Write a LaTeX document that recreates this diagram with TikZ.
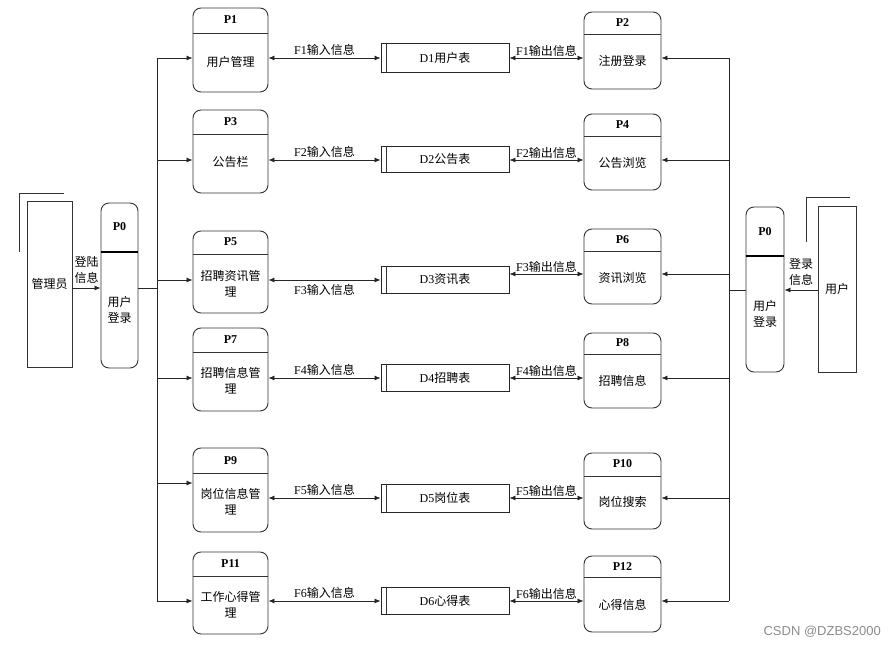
\documentclass[tikz,border=0pt]{standalone}
\usepackage{fontspec}
\setmainfont{Liberation Serif}
\newfontfamily\cjkf{Noto Sans CJK SC}
\newfontfamily\wmf{Liberation Sans}
\usetikzlibrary{arrows.meta}
\newcommand\zh[1]{{\cjkf #1}}
\begin{document}
\begin{tikzpicture}[x=1pt,y=-1pt,
  proc/.style={draw=black!80, line width=0.9pt, rounded corners=8pt, inner sep=0pt},
  ent/.style={draw=black!80, line width=0.9pt, inner sep=0pt, font=\fontsize{12}{15}\selectfont},
  store/.style={draw=black!85, line width=0.9pt, inner sep=0pt, minimum width=128pt, font=\fontsize{12}{15}\selectfont},
  txt/.style={font=\fontsize{12}{16}\selectfont, inner sep=0pt, align=center},
  plabel/.style={font=\fontsize{12}{14}\selectfont\bfseries, inner sep=0pt},
  divl/.style={draw=black!80, line width=0.9pt},
  link/.style={draw=black!85, line width=0.8pt},
  arr/.style={link, -{Latex[length=6pt,width=5pt]}},
  darr/.style={link, {Latex[length=6pt,width=5pt]}-{Latex[length=6pt,width=5pt]}},
  flab/.style={font=\fontsize{12}{14}\selectfont, inner sep=0pt},
]
\useasboundingbox (0,0) rectangle (895,648);
\fill[white] (0,0) rectangle (895,648);

% ---------- external entities ----------
\draw[divl] (19,252) -- (19,193) -- (64,193);
\node[ent, minimum width=45pt, minimum height=166pt] (adm) at (49.5,284) {\zh{管理员}};
\draw[divl] (806,242) -- (806,197) -- (850,197);
\node[ent, minimum width=38pt, minimum height=166pt] (usr) at (837,289) {\zh{用户}};

% ---------- P0 left ----------
\node[proc, minimum width=37pt, minimum height=165pt] (p0l) at (119.5,285.5) {};
\draw[draw=black, line width=2pt] (p0l.west |- 0,252) -- (p0l.east |- 0,252);
\node[plabel] (p0ll) at (119.5,227) {P0};
\node[txt] (p0lt) at (119.5,310) {\zh{用户}\\\zh{登录}};

% ---------- P0 right ----------
\node[proc, minimum width=38pt, minimum height=165pt] (p0r) at (765,289.5) {};
\draw[draw=black, line width=2pt] (p0r.west |- 0,256) -- (p0r.east |- 0,256);
\node[plabel] (p0rl) at (765,232) {P0};
\node[txt] (p0rt) at (765,314) {\zh{用户}\\\zh{登录}};

% ---------- left processes ----------
\node[proc, minimum width=75pt, minimum height=84pt] (p1) at (230.5,50) {};
\draw[divl] (p1.west |- 0,33) -- (p1.east |- 0,33);
\node[plabel] (p1l) at (230.5,20) {P1};
\node[txt] (p1t) at (230.5,62) {\zh{用户管理}};

\node[proc, minimum width=75pt, minimum height=83pt] (p3) at (230.5,151.5) {};
\draw[divl] (p3.west |- 0,134) -- (p3.east |- 0,134);
\node[plabel] (p3l) at (230.5,122) {P3};
\node[txt] (p3t) at (230.5,162) {\zh{公告栏}};

\node[proc, minimum width=75pt, minimum height=82pt] (p5) at (230.5,272) {};
\draw[divl] (p5.west |- 0,254) -- (p5.east |- 0,254);
\node[plabel] (p5l) at (230.5,242) {P5};
\node[txt] (p5t) at (230.5,284) {\zh{招聘资讯管}\\\zh{理}};

\node[proc, minimum width=75pt, minimum height=83pt] (p7) at (230.5,369.5) {};
\draw[divl] (p7.west |- 0,352) -- (p7.east |- 0,352);
\node[plabel] (p7l) at (230.5,340) {P7};
\node[txt] (p7t) at (230.5,381) {\zh{招聘信息管}\\\zh{理}};

\node[proc, minimum width=75pt, minimum height=84pt] (p9) at (230.5,490) {};
\draw[divl] (p9.west |- 0,473) -- (p9.east |- 0,473);
\node[plabel] (p9l) at (230.5,461) {P9};
\node[txt] (p9t) at (230.5,502) {\zh{岗位信息管}\\\zh{理}};

\node[proc, minimum width=75pt, minimum height=82pt] (p11) at (230.5,593) {};
\draw[divl] (p11.west |- 0,576) -- (p11.east |- 0,576);
\node[plabel] (p11l) at (230.5,564) {P11};
\node[txt] (p11t) at (230.5,605) {\zh{工作心得管}\\\zh{理}};

% ---------- right processes ----------
\node[proc, minimum width=77pt, minimum height=77pt] (p2) at (622.5,50.5) {};
\draw[divl] (p2.west |- 0,34) -- (p2.east |- 0,34);
\node[plabel] (p2l) at (622.5,23) {P2};
\node[txt] (p2t) at (622.5,61) {\zh{注册登录}};

\node[proc, minimum width=77pt, minimum height=76pt] (p4) at (622.5,152) {};
\draw[divl] (p4.west |- 0,136) -- (p4.east |- 0,136);
\node[plabel] (p4l) at (622.5,125) {P4};
\node[txt] (p4t) at (622.5,163) {\zh{公告浏览}};

\node[proc, minimum width=77pt, minimum height=75pt] (p6) at (622.5,266.5) {};
\draw[divl] (p6.west |- 0,251) -- (p6.east |- 0,251);
\node[plabel] (p6l) at (622.5,240) {P6};
\node[txt] (p6t) at (622.5,278) {\zh{资讯浏览}};

\node[proc, minimum width=77pt, minimum height=75pt] (p8) at (622.5,370.5) {};
\draw[divl] (p8.west |- 0,354) -- (p8.east |- 0,354);
\node[plabel] (p8l) at (622.5,343) {P8};
\node[txt] (p8t) at (622.5,381) {\zh{招聘信息}};

\node[proc, minimum width=77pt, minimum height=76pt] (p10) at (622.5,491) {};
\draw[divl] (p10.west |- 0,476) -- (p10.east |- 0,476);
\node[plabel] (p10l) at (622.5,464) {P10};
\node[txt] (p10t) at (622.5,502) {\zh{岗位搜索}};

\node[proc, minimum width=77pt, minimum height=76pt] (p12) at (622.5,594) {};
\draw[divl] (p12.west |- 0,577) -- (p12.east |- 0,577);
\node[plabel] (p12l) at (622.5,567) {P12};
\node[txt] (p12t) at (622.5,605) {\zh{心得信息}};

% ---------- data stores ----------
\node[store, minimum height=29pt] (d1) at (445,57.5) {D1\zh{用户表}};
\node[store, minimum height=26pt] (d2) at (445,159) {D2\zh{公告表}};
\node[store, minimum height=27pt] (d3) at (445,279.5) {D3\zh{资讯表}};
\node[store, minimum height=27pt] (d4) at (445,377.5) {D4\zh{招聘表}};
\node[store, minimum height=28pt] (d5) at (445,498) {D5\zh{岗位表}};
\node[store, minimum height=27pt] (d6) at (445,600.5) {D6\zh{心得表}};
\foreach \d in {d1,d2,d3,d4,d5,d6}{
  \draw[divl] ([xshift=6pt]\d.north west) -- ([xshift=6pt]\d.south west);
}

% ---------- left tree ----------
\coordinate (lj) at (157,288);
\coordinate (lt) at (157,58);
\coordinate (lb) at (157,601);
\coordinate (l3) at (157,160);
\coordinate (l5) at (157,280);
\coordinate (l7) at (157,378);
\coordinate (l9) at (157,483);
\draw[arr] (adm.east |- 0,288) -- (p0l.west |- 0,288)
  node[txt, pos=0.5, above=4pt] (admlab) {\zh{登陆}\\\zh{信息}};
\draw[link] (p0l.east |- lj) -- (lj);
\draw[link] (lt) -- (lb);
\draw[arr] (lt) -- (p1.west |- lt);
\draw[arr] (l3) -- (p3.west |- l3);
\draw[arr] (l5) -- (p5.west |- l5);
\draw[arr] (l7) -- (p7.west |- l7);
\draw[arr] (l9) -- (p9.west |- l9);
\draw[arr] (lb) -- (p11.west |- lb);

% ---------- right tree ----------
\coordinate (rj) at (729,290);
\coordinate (rt) at (729,58);
\coordinate (rb) at (729,601);
\coordinate (r4) at (729,160);
\coordinate (r6) at (729,274);
\coordinate (r8) at (729,378);
\coordinate (r10) at (729,498);
\draw[arr] (usr.west |- 0,290) -- (p0r.east |- 0,290)
  node[txt, pos=0.5, above=4pt] (usrlab) {\zh{登录}\\\zh{信息}};
\draw[link] (p0r.west |- rj) -- (rj);
\draw[link] (rt) -- (rb);
\draw[arr] (rt) -- (p2.east |- rt);
\draw[arr] (r4) -- (p4.east |- r4);
\draw[arr] (r6) -- (p6.east |- r6);
\draw[arr] (r8) -- (p8.east |- r8);
\draw[arr] (r10) -- (p10.east |- r10);
\draw[arr] (rb) -- (p12.east |- rb);

% ---------- flows process <-> store ----------
\draw[darr] (p1.east |- 0,58) -- (d1.west |- 0,58) node[flab, midway, above=2pt] (f1i) {F1\zh{输入信息}};
\draw[darr] (d1.east |- 0,58) -- (p2.west |- 0,58) node[flab, midway, above=1pt] (f1o) {F1\zh{输出信息}};
\draw[darr] (p3.east |- 0,160) -- (d2.west |- 0,160) node[flab, midway, above=2pt] (f2i) {F2\zh{输入信息}};
\draw[darr] (d2.east |- 0,160) -- (p4.west |- 0,160) node[flab, midway, above=1pt] (f2o) {F2\zh{输出信息}};
\draw[darr] (p5.east |- 0,280) -- (d3.west |- 0,280) node[flab, midway, below=4pt] (f3i) {F3\zh{输入信息}};
\draw[darr] (d3.east |- 0,274) -- (p6.west |- 0,274) node[flab, midway, above=1pt] (f3o) {F3\zh{输出信息}};
\draw[darr] (p7.east |- 0,378) -- (d4.west |- 0,378) node[flab, midway, above=2pt] (f4i) {F4\zh{输入信息}};
\draw[darr] (d4.east |- 0,378) -- (p8.west |- 0,378) node[flab, midway, above=1pt] (f4o) {F4\zh{输出信息}};
\draw[darr] (p9.east |- 0,498) -- (d5.west |- 0,498) node[flab, midway, above=2pt] (f5i) {F5\zh{输入信息}};
\draw[darr] (d5.east |- 0,498) -- (p10.west |- 0,498) node[flab, midway, above=1pt] (f5o) {F5\zh{输出信息}};
\draw[darr] (p11.east |- 0,601) -- (d6.west |- 0,601) node[flab, midway, above=2pt] (f6i) {F6\zh{输入信息}};
\draw[darr] (d6.east |- 0,601) -- (p12.west |- 0,601) node[flab, midway, above=1pt] (f6o) {F6\zh{输出信息}};

% ---------- watermark ----------
\node[anchor=east, inner sep=0pt, text=black!45, font=\wmf\fontsize{13}{15}\selectfont] (wm) at (881,632) {CSDN @DZBS2000};
\end{tikzpicture}
\end{document}
